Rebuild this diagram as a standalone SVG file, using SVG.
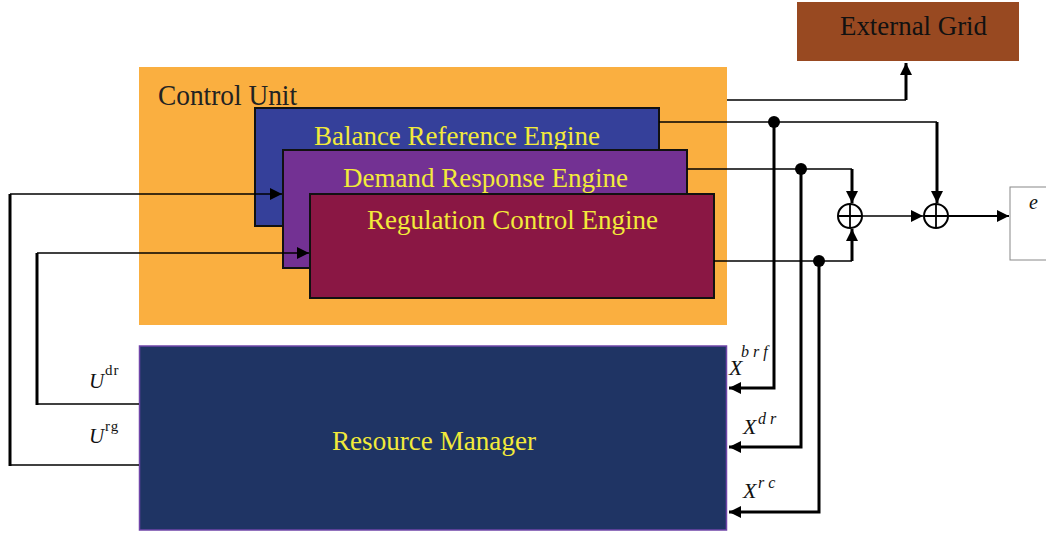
<svg xmlns="http://www.w3.org/2000/svg" width="1046" height="534" viewBox="0 0 1046 534">
  <style>
    .lbl { font-family: "Liberation Serif", "Times New Roman", "DejaVu Serif", serif; }
    .eng { font-size: 28px; fill: #F2EA3A; }
    .box { stroke: #111; stroke-width: 2; }
    .thin { fill: none; stroke: #000; stroke-width: 1.5; }
    .thick { fill: none; stroke: #000; stroke-width: 3; }
    .math { font-family: "Liberation Serif", "Times New Roman", "DejaVu Serif", serif; fill: #111; }
  </style>
  <defs>
    <marker id="ah" markerUnits="userSpaceOnUse" markerWidth="14" markerHeight="14" refX="12" refY="6" orient="auto">
      <path d="M0,0 L12,6 L0,12 z" fill="#000"/>
    </marker>
  </defs>
  <rect width="1046" height="534" fill="#fff"/>

  <!-- Control unit container with its three engines -->
  <g id="control-unit">
    <rect x="139" y="67" width="588" height="258" fill="#FAAF40"/>
    <text class="lbl" x="158" y="105" font-size="29" fill="#222" textLength="139" lengthAdjust="spacingAndGlyphs">Control Unit</text>
  </g>
  <g id="balance-reference-engine">
    <rect class="box" x="255" y="108" width="404" height="118" fill="#35409A"/>
    <text class="lbl eng" x="314" y="145" textLength="286" lengthAdjust="spacingAndGlyphs">Balance Reference Engine</text>
  </g>
  <g id="demand-response-engine">
    <rect class="box" x="283" y="150" width="404" height="118" fill="#733193"/>
    <text class="lbl eng" x="343" y="187" textLength="285" lengthAdjust="spacingAndGlyphs">Demand Response Engine</text>
  </g>
  <g id="regulation-control-engine">
    <rect class="box" x="310" y="194" width="404" height="104" fill="#8A1744"/>
    <text class="lbl eng" x="367" y="229" textLength="291" lengthAdjust="spacingAndGlyphs">Regulation Control Engine</text>
  </g>

  <g id="external-grid">
    <rect x="797" y="2" width="222" height="59" fill="#984921"/>
    <text class="lbl" x="840" y="35" font-size="28" fill="#111" textLength="147" lengthAdjust="spacingAndGlyphs">External Grid</text>
  </g>

  <g id="resource-manager">
    <rect x="139.5" y="346" width="587" height="184" fill="#1F3464" stroke="#6F45A8" stroke-width="1.5"/>
    <text class="lbl" x="332" y="450" font-size="28" fill="#F2EA3A" textLength="204" lengthAdjust="spacingAndGlyphs">Resource Manager</text>
  </g>

  <g id="sum-1">
    <circle cx="850" cy="216" r="12" fill="#fff" stroke="#000" stroke-width="2"/>
    <path d="M838,216 H862 M850,204 V228" stroke="#000" stroke-width="1.8"/>
  </g>
  <g id="sum-2">
    <circle cx="936" cy="216" r="12" fill="#fff" stroke="#000" stroke-width="2"/>
    <path d="M924,216 H948 M936,204 V228" stroke="#000" stroke-width="1.8"/>
  </g>

  <g id="output-e">
    <rect x="1010" y="187" width="40" height="73" fill="#fff" stroke="#888" stroke-width="1"/>
    <text class="math" x="1029" y="209" font-size="20" font-style="italic">e</text>
  </g>

  <!-- Signal lines -->
  <g id="connectors">
    <path class="thin" d="M727,100 H906"/>
    <path class="thick" d="M906,100 V63" marker-end="url(#ah)"/>

    <path class="thin" d="M659,122 H937"/>
    <path class="thick" d="M937,122 V203" marker-end="url(#ah)"/>

    <path class="thin" d="M687,169 H852"/>
    <path class="thick" d="M852,169 V203" marker-end="url(#ah)"/>

    <path class="thin" d="M714,261 H852"/>
    <path class="thick" d="M852,261 V229" marker-end="url(#ah)"/>

    <path class="thin" d="M862,216 H923" marker-end="url(#ah)"/>
    <path fill="none" stroke="#000" stroke-width="2.2" d="M948,216 H1009" marker-end="url(#ah)"/>

    <!-- measurements fed back to the resource manager -->
    <path class="thick" d="M774,122 V388 H729" marker-end="url(#ah)"/>
    <path class="thick" d="M801,169 V447 H729" marker-end="url(#ah)"/>
    <path class="thick" d="M819,261 V512 H729" marker-end="url(#ah)"/>
    <circle cx="774" cy="122" r="6" fill="#000"/>
    <circle cx="801" cy="169" r="6" fill="#000"/>
    <circle cx="819" cy="261" r="6" fill="#000"/>

    <!-- control commands from the resource manager -->
    <path class="thin" d="M139,465 H10"/>
    <path class="thick" d="M10,466 V194"/>
    <path class="thin" d="M10,194 H282" marker-end="url(#ah)"/>
    <path class="thin" d="M139,404 H37"/>
    <path class="thick" d="M37,405 V253"/>
    <path class="thin" d="M37,253 H309" marker-end="url(#ah)"/>
  </g>

  <g id="labels">
    <text class="math" x="89" y="388" font-size="21" font-style="italic">U</text>
    <text class="math" x="105" y="375" font-size="15" letter-spacing="1">dr</text>
    <text class="math" x="89" y="443" font-size="21" font-style="italic">U</text>
    <text class="math" x="105" y="431" font-size="15" letter-spacing="1">rg</text>

    <text class="math" x="729" y="375" font-size="22" font-style="italic">X</text>
    <text class="math" x="741" y="357" font-size="16" font-style="italic">b r f</text>
    <text class="math" x="743" y="434" font-size="22" font-style="italic">X</text>
    <text class="math" x="758" y="424" font-size="16" font-style="italic">d r</text>
    <text class="math" x="743" y="498" font-size="22" font-style="italic">X</text>
    <text class="math" x="758" y="488" font-size="16" font-style="italic">r c</text>
  </g>
</svg>
